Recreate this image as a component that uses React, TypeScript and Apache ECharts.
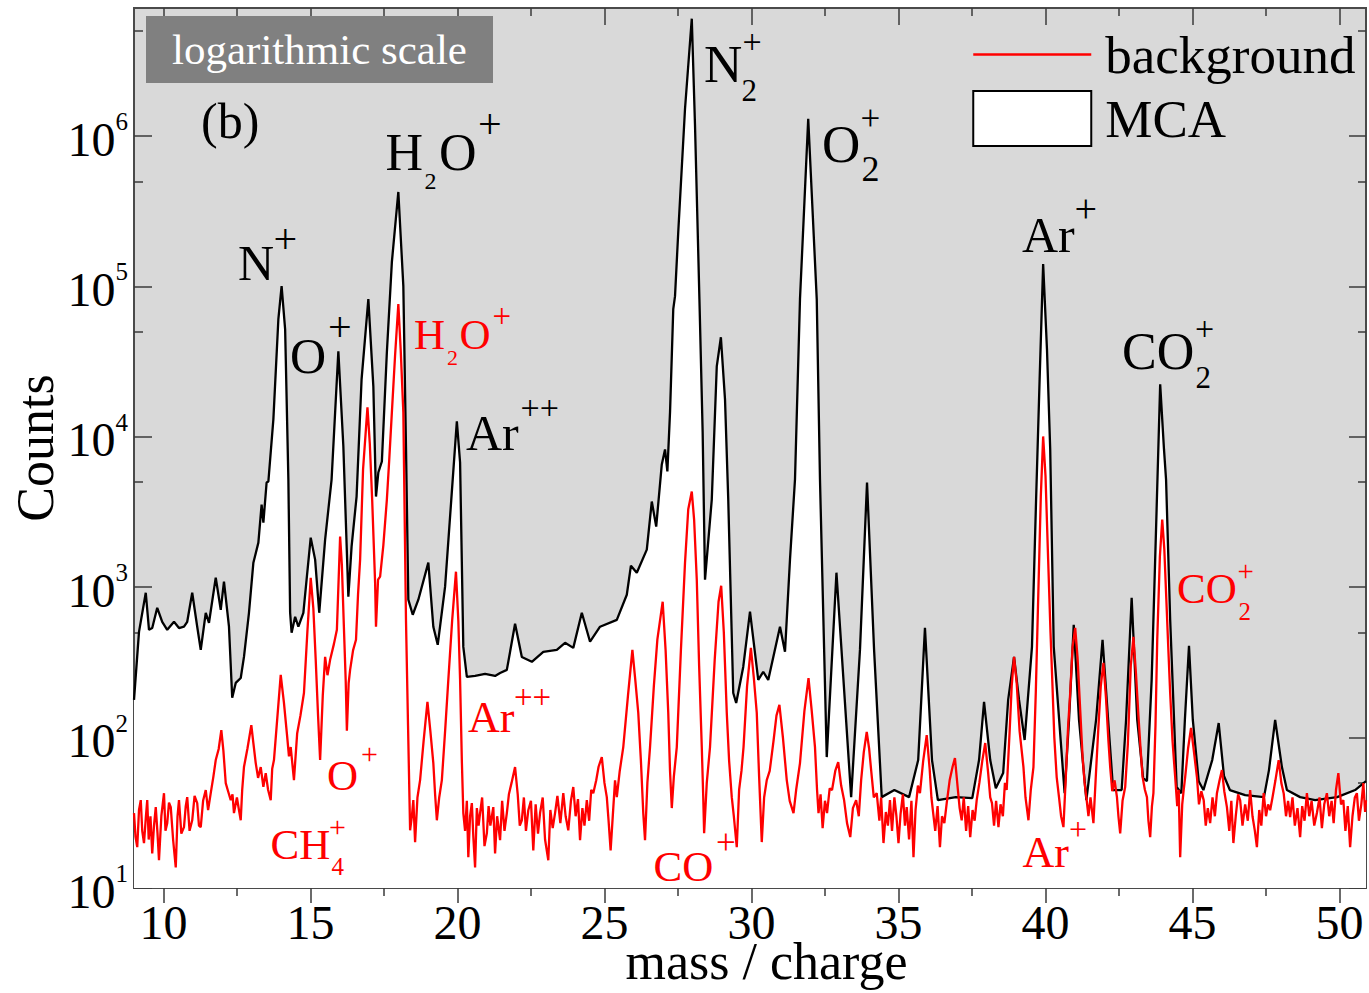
import React, { useEffect, useRef } from 'react';
import * as echarts from 'echarts';

const FONT = '"Liberation Serif", "Times New Roman", Times, serif';

// ---------- MCA spectrum (black, white filled) ----------
const mcaMass = [
  9.00, 9.17, 9.40, 9.51, 9.62, 9.79, 9.96, 10.13, 10.36, 10.53, 10.70, 10.81, 10.98, 11.15, 11.27, 11.44, 11.55, 11.78, 11.95, 12.06,
  12.23, 12.34, 12.46, 12.63, 12.74, 12.91, 13.06, 13.23, 13.34, 13.40, 13.51, 13.57, 13.74, 13.91, 14.02, 14.14, 14.25, 14.31, 14.36, 14.48,
  14.59, 14.76, 14.87, 15.01, 15.16, 15.30, 15.50, 15.72, 15.95, 16.12, 16.29, 16.40, 16.57, 16.74, 16.97, 17.14, 17.23, 17.31, 17.43, 17.60,
  17.77, 17.99, 18.16, 18.25, 18.33, 18.48, 18.67, 19.01, 19.18, 19.33, 19.58, 19.98, 20.09, 20.20, 20.32, 20.60, 20.94, 21.28, 21.45, 21.68,
  21.96, 22.19, 22.53, 22.92, 23.38, 23.66, 23.94, 24.23, 24.51, 24.85, 25.42, 25.76, 25.90, 26.10, 26.44, 26.61, 26.76, 26.95, 27.06, 27.14,
  27.23, 27.34, 27.40, 27.51, 27.74, 27.97, 28.08, 28.23, 28.34, 28.42, 28.65, 28.82, 28.96, 29.10, 29.21, 29.38, 29.48, 29.72, 29.95, 30.23,
  30.40, 30.57, 30.97, 31.14, 31.31, 31.48, 31.65, 31.93, 32.22, 32.33, 32.56, 32.89, 33.39, 33.69, 33.93, 34.17, 34.43, 34.86, 35.36, 35.67,
  35.90, 36.14, 36.34, 36.95, 37.51, 37.74, 37.91, 38.12, 38.31, 38.56, 38.73, 38.93, 39.10, 39.29, 39.54, 39.68, 39.80, 39.92, 40.05, 40.16,
  40.28, 40.65, 40.80, 40.96, 41.14, 41.39, 41.72, 41.94, 42.13, 42.30, 42.59, 42.74, 42.93, 43.12, 43.32, 43.45, 43.61, 43.73, 43.90, 44.03,
  44.10, 44.24, 44.46, 44.62, 44.74, 44.88, 45.01, 45.21, 45.37, 45.67, 45.89, 46.07, 46.27, 46.79, 47.43, 47.60, 47.81, 48.04, 48.21, 48.66,
  49.17, 49.92, 50.53, 50.90,
];
const mcaCounts = [
  178, 505, 919, 521, 535, 730, 589, 521, 589, 535, 546, 589, 919, 546, 383, 676, 580, 1157, 708, 1088,
  546, 184, 231, 249, 344, 676, 1456, 1979, 3545, 2689, 4967, 5045, 13060, 60530, 100400, 51930, 5201, 676, 498, 636,
  546, 676, 1122, 2137, 1525, 676, 2073, 5201, 37060, 8630, 865, 1861, 4007, 24120, 82270, 21660, 4007, 5790, 6855, 36500,
  145100, 424700, 100400, 8630, 826, 656, 826, 1456, 546, 414, 1008, 12660, 6750, 401, 253, 257, 265, 257, 269, 282,
  571, 344, 319, 372, 383, 427, 395, 676, 434, 546, 607, 891, 1391, 1249, 1778, 3712, 2529, 6548, 8241, 5881,
  14540, 70560, 86150, 230000, 1518000, 6030000, 1169000, 82270, 10700, 1122, 3827, 29430, 45940, 17750, 3827, 198, 170, 295, 687, 242,
  274, 242, 546, 372, 1525, 5201, 82270, 1300000, 82270, 5201, 74.2, 1249, 40.2, 383, 4967, 383, 40.2, 44.8, 40.2, 70.9,
  537, 70.9, 38.4, 40.2, 39.6, 70.9, 172.6, 70.9, 46.1, 58.1, 178, 344, 178, 96.4, 401, 3827, 24120, 140800, 38200, 8241,
  401, 42.7, 131, 562, 131, 38.4, 131, 447, 131, 44.8, 44.8, 131, 851, 131, 53.8, 51.3, 241, 1525, 22340, 8241,
  5201, 607, 46.9, 42.7, 131, 408, 131, 51.3, 44.8, 70.9, 125, 55.5, 44.8, 41.5, 40.2, 60.8, 131, 63.7, 44.8, 40.2,
  38.4, 40.2, 44.8, 51.3,
];

// ---------- background spectrum (red) ----------
const bgMass = [
  9.00, 9.05, 9.11, 9.17, 9.23, 9.28, 9.34, 9.40, 9.45, 9.50, 9.56, 9.62, 9.68, 9.74, 9.80, 9.85, 9.93, 10.02, 10.07, 10.13,
  10.19, 10.25, 10.33, 10.42, 10.48, 10.53, 10.61, 10.70, 10.76, 10.81, 10.89, 10.98, 11.06, 11.15, 11.21, 11.27, 11.35, 11.44, 11.52, 11.61,
  11.70, 11.78, 11.88, 11.97, 12.04, 12.12, 12.20, 12.29, 12.35, 12.40, 12.50, 12.57, 12.63, 12.68, 12.74, 12.86, 12.99, 13.06, 13.14, 13.22,
  13.31, 13.40, 13.48, 13.56, 13.65, 13.70, 13.76, 13.88, 13.99, 14.10, 14.21, 14.27, 14.33, 14.44, 14.55, 14.66, 14.78, 14.90, 15.01, 15.10,
  15.18, 15.26, 15.33, 15.42, 15.50, 15.58, 15.67, 15.80, 15.90, 16.01, 16.07, 16.13, 16.20, 16.24, 16.30, 16.35, 16.45, 16.55, 16.62, 16.69,
  16.79, 16.94, 17.02, 17.10, 17.20, 17.23, 17.30, 17.37, 17.48, 17.60, 17.68, 17.77, 17.88, 17.99, 18.07, 18.16, 18.25, 18.32, 18.39, 18.45,
  18.50, 18.56, 18.64, 18.73, 18.85, 18.98, 19.08, 19.18, 19.24, 19.30, 19.38, 19.47, 19.58, 19.69, 19.82, 19.95, 20.03, 20.09, 20.15, 20.20,
  20.26, 20.32, 20.37, 20.43, 20.49, 20.54, 20.60, 20.66, 20.72, 20.77, 20.84, 20.92, 21.00, 21.06, 21.12, 21.22, 21.28, 21.35, 21.45, 21.52,
  21.60, 21.68, 21.75, 21.84, 21.96, 22.05, 22.12, 22.19, 22.26, 22.33, 22.41, 22.50, 22.58, 22.66, 22.74, 22.81, 22.90, 22.98, 23.09, 23.16,
  23.24, 23.32, 23.40, 23.50, 23.60, 23.68, 23.77, 23.86, 23.94, 24.02, 24.10, 24.17, 24.25, 24.32, 24.40, 24.48, 24.55, 24.62, 24.72, 24.80,
  24.91, 25.00, 25.08, 25.14, 25.21, 25.30, 25.36, 25.42, 25.52, 25.64, 25.80, 25.95, 26.05, 26.15, 26.24, 26.32, 26.38, 26.46, 26.55, 26.68,
  26.80, 26.98, 27.08, 27.17, 27.23, 27.29, 27.36, 27.46, 27.60, 27.74, 27.85, 27.97, 28.05, 28.14, 28.22, 28.31, 28.36, 28.39, 28.48, 28.59,
  28.75, 28.88, 28.97, 29.06, 29.16, 29.24, 29.33, 29.40, 29.50, 29.58, 29.66, 29.73, 29.85, 29.98, 30.08, 30.18, 30.26, 30.35, 30.43, 30.52,
  30.62, 30.75, 30.85, 30.95, 31.07, 31.20, 31.30, 31.43, 31.52, 31.65, 31.80, 31.94, 32.05, 32.16, 32.23, 32.28, 32.35, 32.42, 32.50, 32.57,
  32.66, 32.74, 32.85, 32.95, 33.05, 33.15, 33.25, 33.36, 33.45, 33.56, 33.65, 33.73, 33.82, 33.92, 34.00, 34.07, 34.16, 34.26, 34.35, 34.41,
  34.49, 34.57, 34.64, 34.71, 34.78, 34.86, 34.93, 35.00, 35.07, 35.15, 35.22, 35.28, 35.36, 35.44, 35.51, 35.58, 35.66, 35.73, 35.84, 35.96,
  36.06, 36.12, 36.18, 36.25, 36.33, 36.41, 36.48, 36.56, 36.64, 36.74, 36.84, 36.92, 37.02, 37.08, 37.15, 37.22, 37.30, 37.37, 37.44, 37.52,
  37.59, 37.66, 37.75, 37.85, 37.95, 38.05, 38.12, 38.18, 38.25, 38.32, 38.40, 38.47, 38.55, 38.62, 38.68, 38.78, 38.85, 38.93, 39.02, 39.12,
  39.25, 39.32, 39.42, 39.50, 39.59, 39.67, 39.75, 39.84, 39.92, 40.00, 40.09, 40.17, 40.23, 40.30, 40.38, 40.46, 40.53, 40.61, 40.70, 40.77,
  40.84, 40.92, 41.01, 41.09, 41.18, 41.26, 41.33, 41.40, 41.46, 41.53, 41.63, 41.72, 41.80, 41.88, 41.97, 42.06, 42.14, 42.20, 42.27, 42.35,
  42.43, 42.48, 42.54, 42.62, 42.71, 42.80, 42.90, 42.99, 43.08, 43.16, 43.22, 43.30, 43.38, 43.45, 43.50, 43.56, 43.62, 43.67, 43.74, 43.80,
  43.89, 43.97, 44.04, 44.11, 44.17, 44.24, 44.32, 44.41, 44.48, 44.53, 44.58, 44.65, 44.70, 44.75, 44.85, 44.95, 45.05, 45.15, 45.22, 45.30,
  45.38, 45.45, 45.52, 45.60, 45.68, 45.76, 45.83, 45.92, 46.00, 46.08, 46.17, 46.25, 46.32, 46.39, 46.47, 46.55, 46.62, 46.70, 46.79, 46.88,
  46.96, 47.04, 47.12, 47.19, 47.27, 47.34, 47.42, 47.50, 47.57, 47.64, 47.72, 47.82, 47.93, 48.02, 48.10, 48.18, 48.25, 48.32, 48.40, 48.48,
  48.57, 48.66, 48.73, 48.81, 48.89, 48.97, 49.05, 49.14, 49.23, 49.32, 49.40, 49.48, 49.57, 49.65, 49.73, 49.80, 49.88, 49.96, 50.05, 50.13,
  50.20, 50.28, 50.36, 50.44, 50.52, 50.59, 50.66, 50.74, 50.81, 50.87, 50.90,
];
const bgCounts = [
  31.5, 22, 18.7, 33, 38.4, 24, 19.9, 29, 38.4, 21, 30, 17.0, 26, 34.5, 23, 15.3, 30, 42.7, 24, 27.0,
  37, 34.5, 21, 13.7, 30, 38.4, 23, 25.4, 35, 40.2, 24, 28.2, 41, 36.7, 26, 25.4, 38, 44.8, 33, 42.7,
  55, 70.9, 84, 112, 82, 49.8, 44, 38.4, 42, 31.5, 40, 33, 28.2, 45, 63.7, 85, 121, 92, 67.7, 54,
  63.7, 47, 58.1, 45, 38.4, 62, 70.9, 140, 261, 170, 101, 75, 86.5, 52.2, 107, 140, 198, 520, 1156, 720,
  329, 140, 70.9, 190, 344, 260, 329, 420, 521, 2170, 1400, 607, 240, 111, 230, 282, 380, 447, 900, 1525,
  6064, 15700, 9000, 3827, 1072, 546, 1122, 1175, 1900, 3827, 7000, 14540, 35000, 76200, 38000, 14540, 607, 120, 24.2, 30,
  38.4, 20.2, 40, 52.2, 95, 173, 110, 67.7, 42, 28.2, 40, 52.2, 110, 242, 600, 1268, 600, 242, 70, 31.5,
  24, 38, 16.0, 30, 36.7, 22, 13.7, 34, 26, 31.5, 40, 19, 23.1, 35, 26, 34.5, 17, 30, 20.8, 38,
  24, 31.5, 42, 50, 63.7, 42, 26, 28.2, 40, 24, 32.9, 38, 17.8, 36, 23, 31.5, 40, 21, 15.3, 33,
  25, 31.5, 41, 27, 42.7, 30, 24.2, 38, 46.9, 30, 39, 20.8, 34, 26, 38.4, 28, 45, 42.7, 52, 64,
  74.2, 50, 40.2, 28, 17.8, 34, 52, 40.2, 60, 86.5, 190, 383, 240, 146, 70, 31.5, 20.8, 50, 86.5, 220,
  450, 801, 380, 146, 60, 34.0, 55, 86.5, 380, 1456, 3300, 4327, 2800, 1122, 300, 86.5, 40, 23.1, 50, 86.5,
  330, 800, 1023, 500, 146, 70, 40.2, 30, 18.7, 45, 60, 86.5, 220, 395, 250, 146, 55, 20.2, 40, 52.2,
  60, 95, 140, 165, 100, 52.2, 38, 31.5, 45, 67.7, 150, 249, 150, 86.5, 45, 31.5, 42, 25, 38, 31.5,
  46, 44.8, 60, 68.8, 48, 38.4, 27, 21.8, 34, 38.4, 30, 52.2, 80, 109, 85, 60.8, 40, 42.7, 28, 40,
  19.9, 32, 26, 38.4, 24, 40, 30, 19.9, 31, 42, 26, 34.5, 21, 38, 16.0, 33, 48, 42.7, 70, 104,
  62, 40, 31.5, 24, 35, 18.7, 30, 27, 36.7, 52, 64, 73.1, 45, 34, 28.2, 40, 24, 35, 21.8, 33,
  28, 38.4, 50, 70, 92.0, 58, 40, 36.7, 26, 38, 25.4, 36, 30, 50, 44.8, 110, 220, 344, 230, 110,
  63.7, 40, 28.2, 45, 63.7, 200, 826, 4000, 10060, 5500, 1525, 500, 242, 100, 54.7, 40, 30, 25.4, 60, 120,
  198, 400, 537, 340, 153, 75, 50, 38.4, 30, 40, 27.0, 60, 118, 220, 314, 180, 95, 63.7, 44, 52,
  40.2, 30, 23.1, 38, 46.9, 90, 300, 468, 260, 140, 92.0, 55, 45, 40.2, 28, 21.8, 35, 42.7, 120, 447,
  1600, 2816, 1800, 826, 420, 198, 95, 54.7, 35, 45, 16.0, 36, 45, 54.7, 85, 116, 80, 54.7, 36, 44,
  38.4, 26, 34, 27.0, 40, 30, 42.7, 52, 60.8, 44, 34.5, 24, 38, 19.9, 30, 42, 38.4, 26, 36, 28,
  44.8, 30, 24, 18.7, 33, 26, 42.7, 30, 36, 32.9, 40, 52, 70.9, 50, 42.7, 30, 38, 29.6, 40, 26,
  34, 21.8, 35, 28, 42.7, 30, 38, 26, 31.5, 40, 25, 36, 42.7, 30, 38, 27, 45, 58.1, 36, 38.4,
  24, 35, 18.7, 30, 40, 42.7, 28, 36, 49.8, 32, 38.4,
];

// ---------- axes ----------
const xMajorTicks = [10, 15, 20, 25, 30, 35, 40, 45, 50];
const xMinorTicks = [12.5, 17.5, 22.5, 27.5, 32.5, 37.5, 42.5, 47.5];
const yMajorTicks = [10, 100, 1000, 10000, 100000, 1000000];
const yMinorTicks = [50, 500, 5000, 50000, 500000, 5000000];
const X_MIN = 9;
const X_MAX = 50.9;
const Y_MIN = 10;
const Y_MAX = 7.1e6;

// ---------- annotations: [text, left, centerY, fontSize] ----------
type Part = [string, number, number, number];
const blackLabels: Part[][] = [
  [['N', 238, 263, 50], ['+', 273.5, 239, 42]],
  [['O', 290, 356, 50], ['+', 328, 327, 42]],
  [['H', 385.5, 152.5, 52], ['2', 424.5, 181, 24], ['O', 439, 152.5, 52], ['+', 478, 124, 42]],
  [['Ar', 466, 432.5, 50], ['++', 520.5, 407.5, 34]],
  [['N', 704, 64, 53], ['2', 741.5, 90.5, 31], ['+', 742.5, 41, 34]],
  [['O', 822, 143.5, 53], ['2', 861.5, 169, 36], ['+', 860.5, 118.5, 35]],
  [['Ar', 1022, 234.5, 50], ['+', 1074.5, 208, 40]],
  [['CO', 1122, 351.5, 52], ['2', 1195.5, 377, 31], ['+', 1195, 328, 34]],
];
const redLabels: Part[][] = [
  [['H', 414, 334, 43], ['2', 447, 357.5, 22], ['O', 459.5, 334, 43], ['+', 492.5, 315.5, 33]],
  [['O', 327, 775, 43], ['+', 361, 753, 30]],
  [['CH', 270.5, 844, 43], ['4', 331.5, 866.5, 25], ['+', 329, 826.5, 30]],
  [['Ar', 468, 717.5, 44], ['++', 514, 697, 33]],
  [['CO', 653.5, 866, 43], ['+', 716, 842.5, 35]],
  [['Ar', 1022.5, 852.5, 44], ['+', 1069, 829, 32]],
  [['CO', 1177, 588.5, 43], ['2', 1238.5, 611.5, 25], ['+', 1237.5, 570.5, 29]],
];

function zip(a: number[], b: number[]) {
  return a.map((v, i) => [v, b[i]]);
}

function textParts(groups: Part[][], color: string) {
  const out: any[] = [];
  groups.forEach((g) =>
    g.forEach(([t, x, y, fs]) =>
      out.push({
        type: 'text',
        x,
        y,
        z: 100,
        silent: true,
        style: {
          text: t,
          fill: color,
          fontSize: fs,
          fontFamily: FONT,
          textAlign: 'left',
          textVerticalAlign: 'middle',
          align: 'left',
          verticalAlign: 'middle',
        },
      })
    )
  );
  return out;
}

const tickLine = { color: '#3a3a3a', width: 1.5 };

export default function App() {
  const ref = useRef<HTMLDivElement>(null);

  useEffect(() => {
    if (!ref.current) return;
    const chart = echarts.init(ref.current, undefined, { renderer: 'svg' });

    const xBase = { type: 'value', min: X_MIN, max: X_MAX, splitLine: { show: false }, axisLine: { show: false } };
    const yBase = { type: 'log', logBase: 10, min: Y_MIN, max: Y_MAX, splitLine: { show: false }, axisLine: { show: false } };

    const option: any = {
      animation: false,
      backgroundColor: '#ffffff',
      grid: {
        left: 134,
        right: 3,
        top: 8,
        bottom: 105,
        show: true,
        backgroundColor: '#d9d9d9',
        borderColor: '#4a4a4a',
        borderWidth: 2,
        containLabel: false,
        outerBoundsMode: 'none',
      },
      legend: {
        orient: 'vertical',
        left: 972,
        top: 28,
        padding: 0,
        itemWidth: 118,
        itemHeight: 55,
        itemGap: 9,
        selectedMode: false,
        textStyle: { fontFamily: FONT, fontSize: 53, color: '#000', padding: [0, 0, 0, 9] },
        data: [
          {
            name: 'background',
            itemStyle: { opacity: 0, color: '#ff0000', borderWidth: 0 },
            lineStyle: { width: 2.5, color: '#ff0000', opacity: 1 },
          },
          { name: 'MCA', icon: 'rect', itemStyle: { color: '#ffffff', borderColor: '#000000', borderWidth: 2 } },
        ],
      },
      xAxis: [
        {
          ...xBase,
          position: 'bottom',
          name: 'mass / charge',
          nameLocation: 'middle',
          nameGap: 53,
          nameMoveOverlap: false,
          nameTextStyle: { fontFamily: FONT, fontSize: 52, lineHeight: 40, color: '#000', padding: [0, 0, 0, 33] },
          axisTick: { show: true, inside: false, length: 15, customValues: xMajorTicks, lineStyle: tickLine },
          axisLabel: {
            show: true,
            customValues: xMajorTicks,
            margin: 16,
            fontFamily: FONT,
            fontSize: 48,
            lineHeight: 36,
            color: '#000',
          },
        },
        {
          ...xBase,
          position: 'bottom',
          axisTick: { show: true, inside: false, length: 8, customValues: xMinorTicks, lineStyle: tickLine },
          axisLabel: { show: false },
        },
        {
          ...xBase,
          position: 'top',
          axisTick: { show: true, inside: true, length: 17, customValues: xMajorTicks, lineStyle: tickLine },
          axisLabel: { show: false },
        },
        {
          ...xBase,
          position: 'top',
          axisTick: { show: true, inside: true, length: 8, customValues: xMinorTicks, lineStyle: tickLine },
          axisLabel: { show: false },
        },
      ],
      yAxis: [
        {
          ...yBase,
          position: 'left',
          name: 'Counts',
          nameLocation: 'middle',
          nameGap: 73,
          nameMoveOverlap: false,
          nameTextStyle: { fontFamily: FONT, fontSize: 52, color: '#000' },
          axisTick: { show: true, inside: true, length: 18, customValues: yMajorTicks, lineStyle: tickLine },
          axisLabel: {
            show: true,
            customValues: yMajorTicks,
            margin: 6,
            formatter: (v: number) => `{b|10}{s|${Math.round(Math.log10(v))}}`,
            rich: {
              b: { fontFamily: FONT, fontSize: 48, color: '#000', padding: [6, 0, 0, 0] },
              s: { fontFamily: FONT, fontSize: 25, color: '#000', verticalAlign: 'top', lineHeight: 19 },
            },
          },
        },
        {
          ...yBase,
          position: 'left',
          axisTick: { show: true, inside: true, length: 9, customValues: yMinorTicks, lineStyle: tickLine },
          axisLabel: { show: false },
        },
        {
          ...yBase,
          position: 'right',
          axisTick: { show: true, inside: true, length: 17, customValues: yMajorTicks, lineStyle: tickLine },
          axisLabel: { show: false },
        },
        {
          ...yBase,
          position: 'right',
          axisTick: { show: true, inside: true, length: 8, customValues: yMinorTicks, lineStyle: tickLine },
          axisLabel: { show: false },
        },
      ],
      series: [
        {
          name: 'MCA',
          type: 'line',
          xAxisIndex: 0,
          yAxisIndex: 0,
          data: zip(mcaMass, mcaCounts),
          symbol: 'none',
          showSymbol: false,
          silent: true,
          lineStyle: { color: '#000000', width: 2.3 },
          itemStyle: { color: '#ffffff', borderColor: '#000000' },
          areaStyle: { color: '#ffffff', opacity: 1, origin: 'start' },
          z: 2,
        },
        {
          name: 'background',
          type: 'line',
          xAxisIndex: 0,
          yAxisIndex: 0,
          data: zip(bgMass, bgCounts),
          symbol: 'none',
          showSymbol: false,
          silent: true,
          lineStyle: { color: '#ff0000', width: 2.3 },
          itemStyle: { color: '#ff0000' },
          z: 3,
        },
      ],
      graphic: [
        {
          type: 'rect',
          z: 90,
          silent: true,
          shape: { x: 146, y: 16, width: 347, height: 67 },
          style: { fill: '#808080' },
        },
        {
          type: 'text',
          z: 100,
          silent: true,
          x: 319.5,
          y: 49,
          style: {
            text: 'logarithmic scale',
            fill: '#ffffff',
            fontSize: 43,
            fontFamily: FONT,
            textAlign: 'center',
            textVerticalAlign: 'middle',
            align: 'center',
            verticalAlign: 'middle',
          },
        },
        {
          type: 'text',
          z: 100,
          silent: true,
          x: 201,
          y: 121,
          style: {
            text: '(b)',
            fill: '#000000',
            fontSize: 50,
            fontFamily: FONT,
            textAlign: 'left',
            textVerticalAlign: 'middle',
            align: 'left',
            verticalAlign: 'middle',
          },
        },
        ...textParts(blackLabels, '#000000'),
        ...textParts(redLabels, '#ff0000'),
      ],
    };

    chart.setOption(option);
    return () => chart.dispose();
  }, []);

  return (
    <div
      ref={ref}
      style={{ position: 'fixed', left: 0, top: 0, width: 1369, height: 993, background: '#fff' }}
    />
  );
}
